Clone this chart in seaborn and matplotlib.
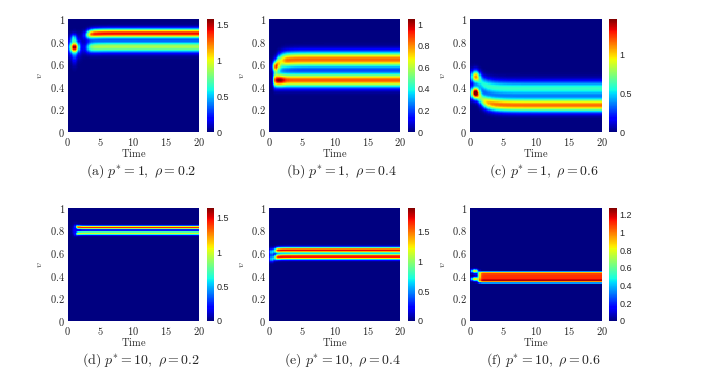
import numpy as np
import pandas as pd
import matplotlib
matplotlib.use("Agg")
import matplotlib.pyplot as plt
import seaborn as sns

sns.set_theme(style="white")
plt.rcParams["mathtext.fontset"] = "cm"
plt.rcParams["font.family"] = ["DejaVu Sans"]

# ---------------- panel meta ----------------
PANEL_TAGS = ["a", "b", "c", "d", "e", "f"]
P_STAR = [1, 1, 1, 10, 10, 10]
RHO = [0.2, 0.4, 0.6, 0.2, 0.4, 0.6]
CBAR_MAX = [1.58, 1.05, 1.45, 1.65, 1.9, 1.28]
CBAR_TICKS = [
    [0, 0.5, 1, 1.5],
    [0, 0.2, 0.4, 0.6, 0.8, 1],
    [0, 0.5, 1],
    [0, 0.5, 1, 1.5],
    [0, 0.5, 1, 1.5],
    [0, 0.2, 0.4, 0.6, 0.8, 1, 1.2],
]
X_TICKS = [0, 5, 10, 15, 20]
Y_TICKS = [0, 0.2, 0.4, 0.6, 0.8, 1]
T_MAX = 20.0

# ---------------- bands ----------------
BAND_PANEL = [0, 0, 1, 1, 2, 2, 3, 3, 4, 4, 5, 5]
BAND_V_START = [0.855, 0.745, 0.585, 0.459, 0.49, 0.345, 0.838, 0.766, 0.615, 0.548, 0.385, 0.356]
BAND_V_END = [0.873, 0.754, 0.642, 0.459, 0.385, 0.237, 0.826, 0.776, 0.626, 0.568, 0.385, 0.356]
BAND_T0 = [2.5, 2.5, 1.0, 0.0, 0.8, 0.8, 1.1, 1.1, 0.4, 0.4, 0.0, 0.0]
BAND_TAU = [1.0, 1.0, 0.8, 1.0, 1.2, 1.2, 0.35, 0.35, 0.5, 0.5, 1.0, 1.0]
BAND_AMP = [1.42, 0.88, 0.84, 0.86, 0.6, 1.15, 1.45, 1.0, 1.72, 1.72, 1.1, 0.15]
BAND_WIDTH = [0.028, 0.034, 0.047, 0.042, 0.046, 0.04, 0.011, 0.011, 0.016, 0.016, 0.045, 0.008]
BAND_POWER = [2, 2, 2, 2, 2, 2, 2, 2, 2, 2, 8, 2]
BAND_T_HALF = [3.0, 3.0, 1.0, 0.7, 1.0, 1.4, 1.3, 1.3, 0.9, 0.9, 1.3, 1.3]
BAND_RAMP = [0.3, 0.3, 0.2, 0.1, 0.4, 0.6, 0.1, 0.1, 0.15, 0.15, 0.15, 0.15]

# ---------------- early transient spots ----------------
SPOT_PANEL = [0, 0, 0, 0, 1, 1, 1, 2, 2, 3, 4, 4, 5, 5]
SPOT_T = [1.0, 1.0, 0.9, 1.0, 1.6, 1.9, 0.9, 0.8, 0.8, 1.1, 0.4, 0.4, 0.7, 0.7]
SPOT_V = [0.75, 0.75, 0.83, 0.66, 0.455, 0.615, 0.578, 0.49, 0.345, 0.80, 0.61, 0.55, 0.44, 0.37]
SPOT_AMP = [1.1, 0.45, 0.45, 0.18, 0.19, -0.15, 0.5, 0.85, 1.25, 0.2, 0.6, 0.6, 0.9, 0.9]
SPOT_ST = [0.42, 0.7, 0.3, 0.3, 0.6, 0.4, 0.3, 0.45, 0.45, 0.3, 0.25, 0.25, 0.35, 0.35]
SPOT_SV = [0.028, 0.055, 0.025, 0.05, 0.03, 0.035, 0.03, 0.035, 0.035, 0.03, 0.02, 0.02, 0.012, 0.012]

NT, NV = 100, 100


def build_field(i):
    t = (np.arange(NT) + 0.5) / NT * T_MAX
    v = 1.0 - (np.arange(NV) + 0.5) / NV  # top row = v 1
    T, V = np.meshgrid(t, v)
    Z = np.zeros_like(T)
    for b, p in enumerate(BAND_PANEL):
        if p != i:
            continue
        c = BAND_V_END[b] + (BAND_V_START[b] - BAND_V_END[b]) * np.exp(
            -np.clip(T - BAND_T0[b], 0, None) / BAND_TAU[b])
        amp = BAND_AMP[b] / (1 + np.exp(-(T - BAND_T_HALF[b]) / BAND_RAMP[b]))
        Z += amp * np.exp(-0.5 * np.abs((V - c) / BAND_WIDTH[b]) ** BAND_POWER[b])
    for s, p in enumerate(SPOT_PANEL):
        if p != i:
            continue
        Z += SPOT_AMP[s] * np.exp(-0.5 * ((T - SPOT_T[s]) / SPOT_ST[s]) ** 2
                                  - 0.5 * ((V - SPOT_V[s]) / SPOT_SV[s]) ** 2)
    Z = np.clip(Z, 0, None)
    return pd.DataFrame(Z, index=np.round(v, 3), columns=np.round(t, 3))


W, H = 710, 381
fig = plt.figure(figsize=(W / 100, H / 100), dpi=100)

COL_AX = [(67.7, 199.0), (269.0, 400.3), (470.0, 601.7)]
COL_CB = [(206.7, 214.0), (407.7, 415.0), (609.3, 617.0)]
ROW_AX = [(19.0, 132.0), (207.7, 321.0)]
CAP_Y = [171, 360]


def frac_box(x0, x1, y0, y1):
    return [x0 / W, 1 - y1 / H, (x1 - x0) / W, (y1 - y0) / H]


for i in range(6):
    r, c = divmod(i, 3)
    ax = fig.add_axes(frac_box(*COL_AX[c], *ROW_AX[r]))
    cax = fig.add_axes(frac_box(*COL_CB[c], *ROW_AX[r]))
    df = build_field(i)
    sns.heatmap(df, ax=ax, cbar_ax=cax, cmap="jet", vmin=0, vmax=CBAR_MAX[i],
                xticklabels=False, yticklabels=False, rasterized=True,
                cbar_kws={"ticks": CBAR_TICKS[i]})
    ax.set_xticks([tt / T_MAX * NT for tt in X_TICKS])
    ax.set_xticklabels([r"$%g$" % tt for tt in X_TICKS], fontsize=7.5)
    ax.set_yticks([(1 - vv) * NV for vv in Y_TICKS])
    ax.set_yticklabels([r"$%g$" % vv for vv in Y_TICKS], fontsize=7.5, rotation=0)
    ax.tick_params(axis="both", length=0)
    ax.tick_params(axis="x", pad=3)
    ax.tick_params(axis="y", pad=2)
    ax.set_xlabel(r"$\mathrm{Time}$", fontsize=7.5, labelpad=-1)
    ax.set_ylabel(r"$v$", fontsize=7, labelpad=4)
    cax.tick_params(labelsize=6.5, length=0, pad=2)
    cax.set_yticklabels([("%g" % tt) for tt in CBAR_TICKS[i]])
    for lab in cax.get_yticklabels():
        lab.set_family("Liberation Sans")
    cx = (COL_AX[c][0] + COL_CB[c][1]) / 2
    fig.text(cx / W, 1 - CAP_Y[r] / H,
             r"$\mathrm{(%s)}\ p^{*}=%d,\ \rho=%g$" % (PANEL_TAGS[i], P_STAR[i], RHO[i]),
             ha="center", va="center", fontsize=10)

fig.savefig("out.png", dpi=100)
